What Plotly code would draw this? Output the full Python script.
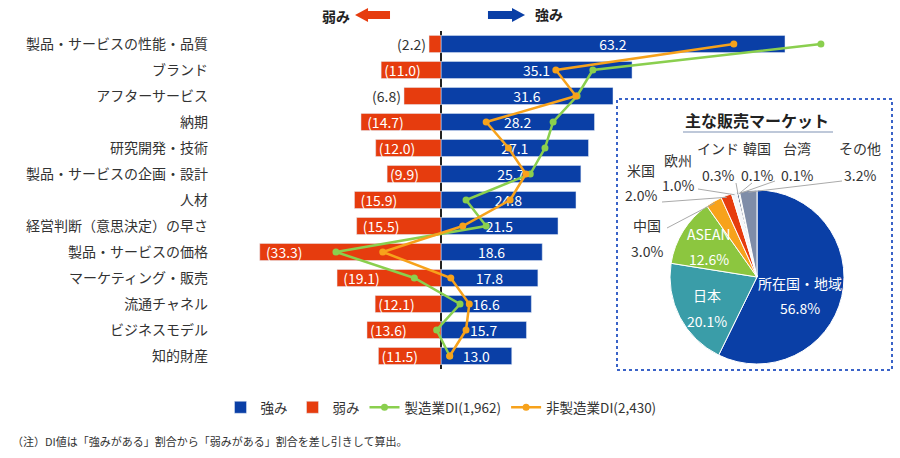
import numpy as np
import plotly.graph_objects as go

# ---------------- data ----------------
categories = ["製品・サービスの性能・品質", "ブランド", "アフターサービス", "納期", "研究開発・技術",
              "製品・サービスの企画・設計", "人材", "経営判断（意思決定）の早さ", "製品・サービスの価格",
              "マーケティング・販売", "流通チャネル", "ビジネスモデル", "知的財産"]
strength = [63.2, 35.1, 31.6, 28.2, 27.1, 25.7, 24.8, 21.5, 18.6, 17.8, 16.6, 15.7, 13.0]
weakness = [2.2, 11.0, 6.8, 14.7, 12.0, 9.9, 15.9, 15.5, 33.3, 19.1, 12.1, 13.6, 11.5]
di_manufacturing = [69.8, 27.9, 25.0, 20.6, 19.1, 16.4, 4.6, 8.3, -19.3, -4.9, 3.5, -0.8, 1.6]
di_nonmanufacturing = [53.8, 21.1, 24.8, 8.3, 12.4, 15.6, 12.7, 4.0, -10.7, 1.8, 5.2, 4.6, 1.6]

market_labels = ["所在国・地域", "日本", "ASEAN", "中国", "米国", "欧州", "インド", "韓国", "台湾", "その他"]
market_share = [56.8, 20.1, 12.6, 3.0, 2.0, 1.0, 0.3, 0.1, 0.1, 3.2]

series_names = ["強み", "弱み", "製造業DI(1,962)", "非製造業DI(2,430)"]

# ---------------- style ----------------
FONT = "Noto Sans CJK JP"
BLUE = "#0A3FA6"
RED = "#E63C0E"
GREEN = "#8ACF4E"
ORANGE = "#F7A21B"
TEXT = "#333333"

W, H = 900, 458
L, R, T, B = 215, 0, 31, 89
PW, PH = W - L - R, H - T - B

def xp(px):
    return (px - L) / PW

def yp(py):
    return (H - B - py) / PH

SCALE = 5.443  # px per unit
x_min = (L - 441) / SCALE
x_max = (W - R - 441) / SCALE

fig = go.Figure()

fig.add_trace(go.Bar(
    y=categories, x=strength, orientation="h", name=series_names[0],
    marker=dict(color=BLUE), width=0.66,
    text=[f"{v:.1f}" for v in strength], textposition="inside",
    insidetextanchor="middle", insidetextfont=dict(color="white", size=14, family=FONT),
    constraintext="none", cliponaxis=False, hoverinfo="skip",
))
wpos = ["outside" if v < 8 else "inside" for v in weakness]
wtext = [f"({v:.1f})" if p == "outside" or v < 14 else f"&nbsp;({v:.1f})" for v, p in zip(weakness, wpos)]
fig.add_trace(go.Bar(
    y=categories, x=[-v for v in weakness], orientation="h", name=series_names[1],
    marker=dict(color=RED), width=0.66,
    text=wtext, textposition=wpos,
    insidetextanchor="end", insidetextfont=dict(color="white", size=14, family=FONT),
    outsidetextfont=dict(color=TEXT, size=14, family=FONT),
    constraintext="none", cliponaxis=False, hoverinfo="skip",
))
fig.add_trace(go.Scatter(
    y=categories, x=di_manufacturing, mode="lines+markers", name=series_names[2],
    line=dict(color=GREEN, width=2.5), marker=dict(color=GREEN, size=7), cliponaxis=False,
))
fig.add_trace(go.Scatter(
    y=categories, x=di_nonmanufacturing, mode="lines+markers", name=series_names[3],
    line=dict(color=ORANGE, width=2.5), marker=dict(color=ORANGE, size=7), cliponaxis=False,
))

# ---------------- pie ----------------
pcx, pcy, pr = 757, 277, 87
pie_colors = [BLUE, "#3A9DA8", "#8CC63F", "#F7A21B", "#E63C0E", "#F4F6FA", "#0B1F4D", "#2F6B3A", "#C07A2A", "#7F8DA8"]
fig.add_trace(go.Pie(
    labels=market_labels, values=market_share, sort=False, direction="clockwise", rotation=0,
    marker=dict(colors=pie_colors, line=dict(color="white", width=1)),
    textinfo="none",
    domain=dict(x=[xp(pcx - pr), xp(pcx + pr)], y=[yp(pcy + pr), yp(pcy - pr)]),
    showlegend=False, hoverinfo="skip",
))

shapes = []
annotations = []

def note(px, py, text, size=13, color=TEXT, xanchor="center"):
    annotations.append(dict(xref="paper", yref="paper", x=xp(px), y=yp(py), text=text, showarrow=False,
                            xanchor=xanchor, yanchor="middle",
                            font=dict(size=size, color=color, family=FONT)))

# box around pie
shapes.append(dict(type="rect", xref="paper", yref="paper", x0=xp(617), x1=xp(892), y0=yp(370), y1=yp(99),
                   line=dict(color="#3A63C8", width=2, dash="dot")))
note(757, 120, "<b>主な販売マーケット</b>", size=16, color="#222222")
shapes.append(dict(type="line", xref="paper", yref="paper", x0=xp(683), x1=xp(833), y0=yp(132), y1=yp(132),
                   line=dict(color="#A9B6CC", width=1.5)))

# inside pie labels
inside_pos = {"所在国・地域": (800, 283, 308), "日本": (707, 295, 321), "ASEAN": (709, 234, 259)}
for i, lab in enumerate(market_labels):
    if lab in inside_pos:
        lx, ly1, ly2 = inside_pos[lab]
        note(lx, ly1, lab, size=14, color="white")
        note(lx, ly2, f"{market_share[i]:.1f}%", size=14, color="white")

# outside pie labels with leader lines
total = sum(market_share)
cum = np.cumsum([0] + market_share[:-1])
label_pos = {
    "中国": (647, 225, 251, (667, 228)),
    "米国": (641, 170, 195, (662, 202)),
    "欧州": (678, 160, 185, (698, 189)),
    "インド": (718, 148, 175, (736, 183)),
    "韓国": (757, 148, 175, (752, 183)),
    "台湾": (797, 148, 175, (775, 181)),
    "その他": (860, 148, 175, (842, 181)),
}
for i, lab in enumerate(market_labels):
    if lab not in label_pos:
        continue
    lx, ly1, ly2, (ex, ey) = label_pos[lab]
    ang = np.deg2rad((cum[i] + market_share[i] / 2) / total * 360)
    sx = pcx + pr * 0.98 * np.sin(ang)
    sy = pcy - pr * 0.98 * np.cos(ang)
    note(lx, ly1, lab, size=14)
    note(lx, ly2, f"{market_share[i]:.1f}%", size=14)
    shapes.append(dict(type="line", xref="paper", yref="paper", x0=xp(ex), y0=yp(ey), x1=xp(sx), y1=yp(sy),
                       line=dict(color="#AAAAAA", width=1)))

# header arrows
def arrow_path(x_tail, x_head, yc, body_h=8, head_h=14):
    d = 1 if x_head > x_tail else -1
    neck = x_head - d * 13
    pts = [(x_tail, yc - body_h / 2), (neck, yc - body_h / 2), (neck, yc - head_h / 2), (x_head, yc),
           (neck, yc + head_h / 2), (neck, yc + body_h / 2), (x_tail, yc + body_h / 2)]
    return "M " + " L ".join(f"{xp(x):.4f},{yp(y):.4f}" for x, y in pts) + " Z"

shapes.append(dict(type="path", xref="paper", yref="paper", path=arrow_path(390, 355, 15),
                   fillcolor=RED, line=dict(width=0)))
shapes.append(dict(type="path", xref="paper", yref="paper", path=arrow_path(488, 525, 15),
                   fillcolor=BLUE, line=dict(width=0)))
note(336, 16, "<b>弱み</b>", size=14, color="#222222")
note(549, 14, "<b>強み</b>", size=14, color="#222222")

# footnote
note(10, 441, "（注）DI値は「強みがある」割合から「弱みがある」割合を差し引きして算出。", size=11, xanchor="left")

fig.update_layout(
    width=W, height=H, margin=dict(l=L, r=R, t=T, b=B),
    paper_bgcolor="white", plot_bgcolor="white",
    barmode="relative", bargap=0.34,
    font=dict(family=FONT, size=13, color=TEXT),
    xaxis=dict(range=[x_min, x_max], showgrid=False, showticklabels=False, zeroline=True,
               zerolinecolor="#222222", zerolinewidth=1.5, fixedrange=True),
    yaxis=dict(range=[12.5, -0.5], showgrid=False, ticks="", ticklabelstandoff=6,
               tickfont=dict(size=14, color=TEXT, family=FONT), fixedrange=True),
    legend=dict(orientation="h", xref="paper", yref="paper", x=xp(441), xanchor="center",
                y=yp(392), yanchor="top", font=dict(size=13.5, color=TEXT, family=FONT),
                itemwidth=30, traceorder="normal"),
    shapes=shapes, annotations=annotations,
    showlegend=True,
)

fig.write_html("out.html", config={"displayModeBar": False},
               post_script="document.body.style.margin='0';document.body.style.overflow='hidden';")
